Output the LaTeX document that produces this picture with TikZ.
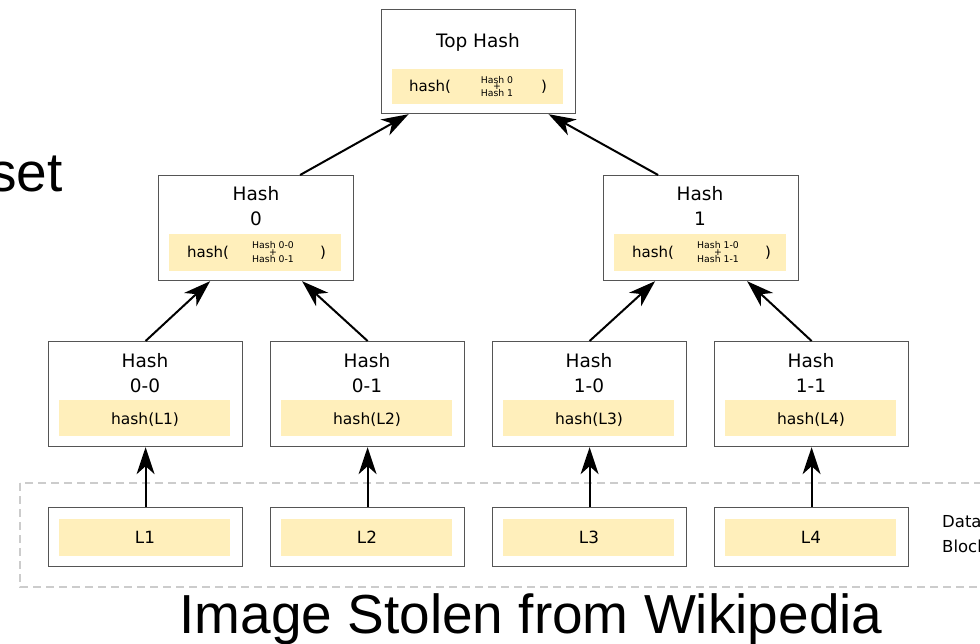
\documentclass[tikz,border=0pt]{standalone}
\usepackage{fontspec}
\setmainfont{DejaVu Sans}
\newfontfamily\slidefont{Liberation Sans}
\usetikzlibrary{arrows.meta,calc}
\definecolor{hashfill}{RGB}{255,239,187}
\definecolor{boxline}{RGB}{85,85,85}
\definecolor{dashgray}{RGB}{204,204,204}

\begin{document}
\begin{tikzpicture}[x=1pt,y=-1pt,
  hashbox/.style={draw=boxline,line width=1.2pt,fill=white,minimum width=194pt,
    inner sep=0pt,anchor=north west},
  strip/.style={fill=hashfill,minimum width=171pt,minimum height=36pt,
    inner sep=0pt,anchor=north west},
  title/.style={anchor=base,inner sep=0pt,font=\fontsize{18.5}{20}\selectfont},
  hfn/.style={anchor=base west,inner sep=0pt,font=\fontsize{15}{16}\selectfont},
  paren/.style={anchor=base,inner sep=0pt,font=\fontsize{15}{16}\selectfont},
  leaflbl/.style={anchor=base,inner sep=0pt,font=\fontsize{15.5}{16}\selectfont},
  tiny/.style={anchor=base,inner sep=0pt,font=\fontsize{9.3}{10}\selectfont},
  plus/.style={anchor=center,inner sep=0pt,font=\fontsize{9.3}{10}\selectfont},
  arr/.style={line width=2pt,-{Stealth[length=27pt,width=18pt,inset=8pt]}},
  slide/.style={inner sep=0pt,font=\slidefont\fontsize{55}{60}\selectfont}
]
\useasboundingbox (0,0) rectangle (980,644);

% fragment of the slide title at the left edge
\node[slide,anchor=base east] (settext) at (63,192) {set};

% data block group frame
\draw[dashgray,line width=2pt,dash pattern=on 8pt off 5pt] (20,483) rectangle (995,587);
\node[anchor=base west,inner sep=0pt,align=left,font=\fontsize{16.5}{25}\selectfont]
  (datalbl) at (942,552) {Data\\Blocks};

% top hash
\node[hashbox,minimum height=104pt] (top) at (381,9) {};
\node[strip,minimum height=35pt] (tops) at (392,69) {};
\node[title] (toplbl) at (478,48) {Top Hash};
\node[hfn] (toph) at (409,92) {hash(};
\node[tiny] (topa) at (497,83.3) {Hash 0};
\node[plus] (topp) at (497,87) {+};
\node[tiny] (topb) at (497,96.7) {Hash 1};
\node[paren] (topc) at (544,92) {)};

% level one
\foreach \n/\x/\c in {0/158/256, 1/603/700}{
  \node[hashbox,minimum width=195pt,minimum height=105pt] (h\n) at (\x,175) {};
  \node[strip,minimum width=172pt,minimum height=37pt] (h\n s) at (\x+11,234) {};
  \node[title] (h\n t) at (\c,201) {Hash};
  \node[title] (h\n n) at (\c,226) {\n};
  \node[hfn] (h\n f) at (\x+29,258) {hash(};
  \node[tiny] (h\n a) at (\x+115,249) {Hash \n-0};
  \node[plus] (h\n p) at (\x+115,252.5) {+};
  \node[tiny] (h\n b) at (\x+115,263) {Hash \n-1};
  \node[paren] (h\n c) at (\x+165,258) {)};
}

% level two and data blocks
\foreach \a/\b/\k/\x in {0/0/1/48, 0/1/2/270, 1/0/3/492, 1/1/4/714}{
  \node[hashbox,minimum height=105pt] (h\a\b) at (\x,341) {};
  \node[strip] (h\a\b s) at (\x+11,400) {};
  \node[title] (h\a\b t) at (\x+97,367) {Hash};
  \node[title] (h\a\b n) at (\x+97,392) {\a-\b};
  \node[leaflbl] (h\a\b f) at (\x+97,424.5) {hash(L\k)};
  \node[hashbox,minimum height=59pt] (l\k) at (\x,507) {};
  \node[strip,minimum height=37pt] (l\k s) at (\x+11,519) {};
  \node[leaflbl,font=\fontsize{16.8}{18}\selectfont] (l\k t) at (\x+97,543.5) {L\k};
}

% connectors
\foreach \k/\a/\b in {1/0/0, 2/0/1, 3/1/0, 4/1/1}{
  \draw[arr] (l\k.north) -- (h\a\b.south);
}
\draw[arr] (h00.north) -- ([xshift=-46pt]h0.south);
\draw[arr] (h01.north) -- ([xshift=46pt]h0.south);
\draw[arr] (h10.north) -- ([xshift=-46pt]h1.south);
\draw[arr] (h11.north) -- ([xshift=46pt]h1.south);
\draw[arr] ([xshift=44pt]h0.north) -- ([xshift=-70pt]top.south);
\draw[arr] ([xshift=-43pt]h1.north) -- ([xshift=70pt]top.south);

% caption
\node[slide,anchor=base] (caption) at (531,633) {Image Stolen from Wikipedia};
\end{tikzpicture}
\end{document}
